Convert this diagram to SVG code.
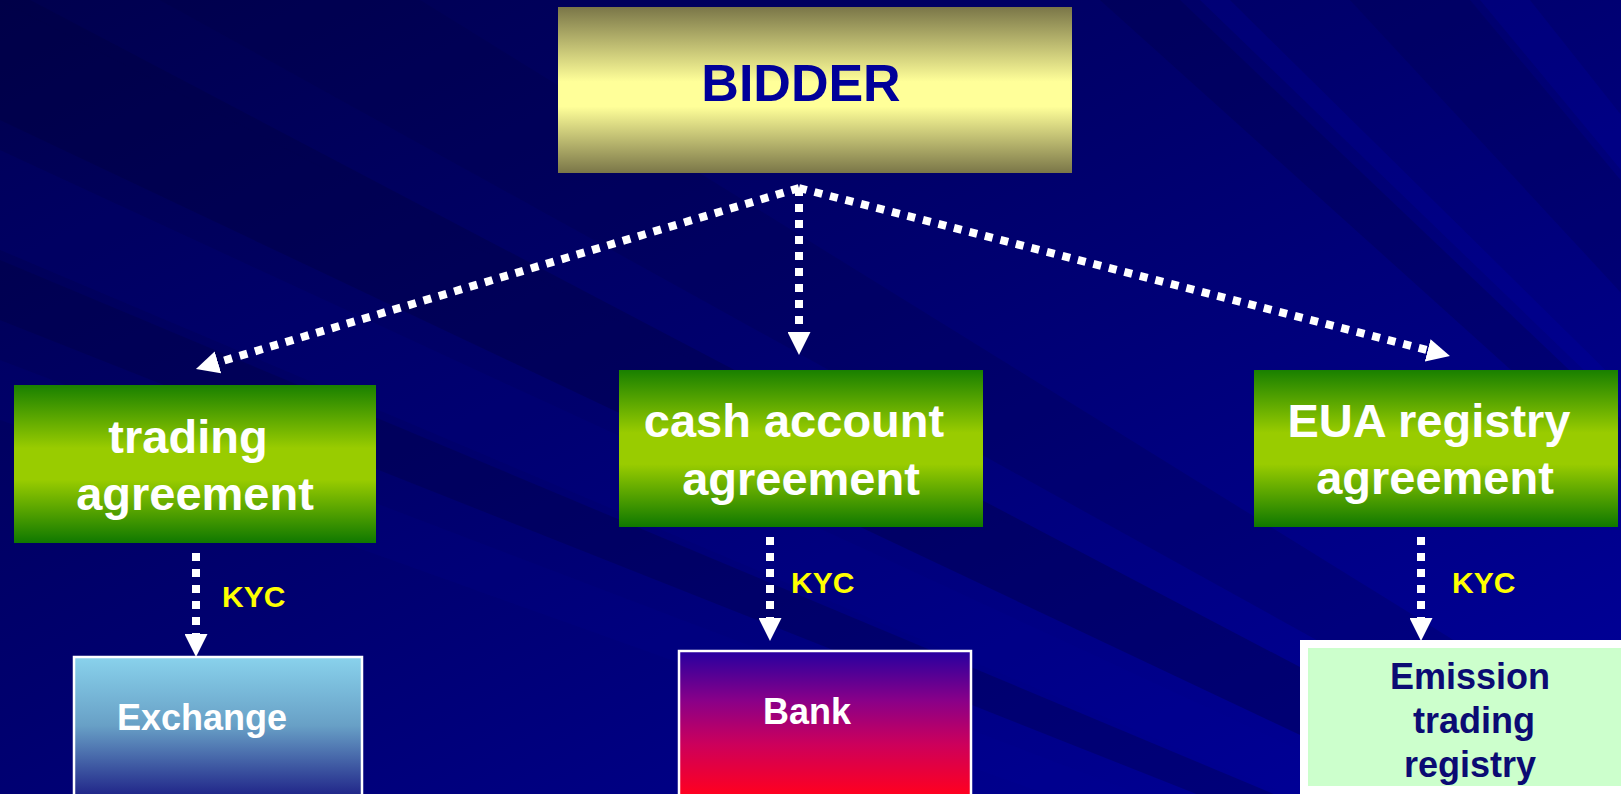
<svg xmlns="http://www.w3.org/2000/svg" width="1621" height="794" viewBox="0 0 1621 794">
<defs>
<linearGradient id="bg" x1="0" y1="0" x2="1" y2="1">
<stop offset="0" stop-color="#00004E"/>
<stop offset="0.45" stop-color="#00006E"/>
<stop offset="1" stop-color="#00009C"/>
</linearGradient>
<linearGradient id="gold" x1="0" y1="0" x2="0" y2="1">
<stop offset="0" stop-color="#7A7648"/>
<stop offset="0.45" stop-color="#FFFF99"/>
<stop offset="0.6" stop-color="#FFFF99"/>
<stop offset="1" stop-color="#7A7648"/>
</linearGradient>
<linearGradient id="green" x1="0" y1="0" x2="0" y2="1">
<stop offset="0" stop-color="#198000"/>
<stop offset="0.4" stop-color="#99CC00"/>
<stop offset="0.6" stop-color="#99CC00"/>
<stop offset="1" stop-color="#0F7800"/>
</linearGradient>
<linearGradient id="exch" gradientUnits="userSpaceOnUse" x1="0" y1="657" x2="0" y2="794">
<stop offset="0" stop-color="#89D2EC"/>
<stop offset="0.5" stop-color="#68A0C6"/>
<stop offset="1" stop-color="#22288A"/>
</linearGradient>
<linearGradient id="bank" gradientUnits="userSpaceOnUse" x1="0" y1="651" x2="0" y2="794">
<stop offset="0" stop-color="#2600A0"/>
<stop offset="0.35" stop-color="#8A0088"/>
<stop offset="0.65" stop-color="#CC005C"/>
<stop offset="1" stop-color="#FF0020"/>
</linearGradient>
<marker id="ah" viewBox="0 0 23 23" refX="0" refY="11.5" markerWidth="23" markerHeight="23" markerUnits="userSpaceOnUse" orient="auto">
<path d="M0,0 L23,11.5 L0,23 Z" fill="#FFFFFF"/>
</marker>
<style>
.t{font-family:"Liberation Sans",Arial,Helvetica,sans-serif;font-weight:bold;}
.gt{fill:#FFFFFF;font-size:47px;text-anchor:middle;}
.kyc{fill:#FFFF00;font-size:30px;}
.bt{font-size:36px;text-anchor:middle;}
.con{fill:none;stroke:#FFFFFF;stroke-width:8;stroke-dasharray:8 8;marker-end:url(#ah);}
</style>
</defs>
<g id="background">
<rect x="0" y="0" width="1621" height="794" fill="url(#bg)"/>
<polygon points="2600,1350 0,0 0,120" fill="#000040" opacity="0.35"/>
<polygon points="2600,1350 0,0 30,0" fill="#000040" opacity="0.35"/>
<polygon points="2600,1350 0,150 0,250" fill="#0000A0" opacity="0.12"/>
<polygon points="2600,1350 0,260 0,320" fill="#000040" opacity="0.3"/>
<polygon points="2600,1350 0,360 0,420" fill="#0000A0" opacity="0.12"/>
<polygon points="2600,1350 160,0 420,0" fill="#000040" opacity="0.2"/>
<polygon points="2600,1350 1100,0 1180,0" fill="#000040" opacity="0.25"/>
<polygon points="2600,1350 1200,0 1230,0" fill="#0000C0" opacity="0.15"/>
<polygon points="2600,1350 1350,0 1470,0" fill="#000040" opacity="0.2"/>
<polygon points="2600,1350 1480,0 1530,0" fill="#0000C0" opacity="0.15"/>
</g>
<g id="connectors">
<path class="con" d="M799,188 L218,362.4"/>
<path class="con" d="M799,188 V332"/>
<path class="con" d="M799,188 L1427.7,350.3"/>
<path class="con" d="M196,553 V634"/>
<path class="con" d="M770,537 V618"/>
<path class="con" d="M1421,537 V618"/>
<text class="t kyc" x="222" y="607">KYC</text>
<text class="t kyc" x="791" y="593">KYC</text>
<text class="t kyc" x="1452" y="593">KYC</text>
</g>
<g id="bidder">
<rect x="558" y="7" width="514" height="166" fill="url(#gold)"/>
<text class="t" x="801" y="101" font-size="52" fill="#000099" text-anchor="middle">BIDDER</text>
</g>
<g id="trading-agreement">
<rect x="14" y="385" width="362" height="158" fill="url(#green)"/>
<text class="t gt" x="188" y="453">trading</text>
<text class="t gt" x="195" y="510">agreement</text>
</g>
<g id="cash-account-agreement">
<rect x="619" y="370" width="364" height="157" fill="url(#green)"/>
<text class="t gt" x="794" y="437">cash account</text>
<text class="t gt" x="801" y="495">agreement</text>
</g>
<g id="eua-registry-agreement">
<rect x="1254" y="370" width="364" height="157" fill="url(#green)"/>
<text class="t gt" x="1429" y="437">EUA registry</text>
<text class="t gt" x="1435" y="494">agreement</text>
</g>
<g id="exchange">
<rect x="74" y="657" width="288" height="150" fill="url(#exch)" stroke="#FFFFFF" stroke-width="2.5"/>
<text class="t bt" x="202" y="730" fill="#FFFFFF">Exchange</text>
</g>
<g id="bank-node">
<rect x="679" y="651" width="292" height="156" fill="url(#bank)" stroke="#FFFFFF" stroke-width="2.5"/>
<text class="t bt" x="807" y="724" fill="#FFFFFF">Bank</text>
</g>
<g id="emission-registry">
<rect x="1300" y="640" width="330" height="170" fill="#FFFFFF"/>
<rect x="1308" y="648" width="320" height="138" fill="#CCFFCC"/>
<text class="t bt" x="1470" y="689" fill="#0B0B73">Emission</text>
<text class="t bt" x="1474" y="733" fill="#0B0B73">trading</text>
<text class="t bt" x="1470" y="777" fill="#0B0B73">registry</text>
</g>
</svg>
